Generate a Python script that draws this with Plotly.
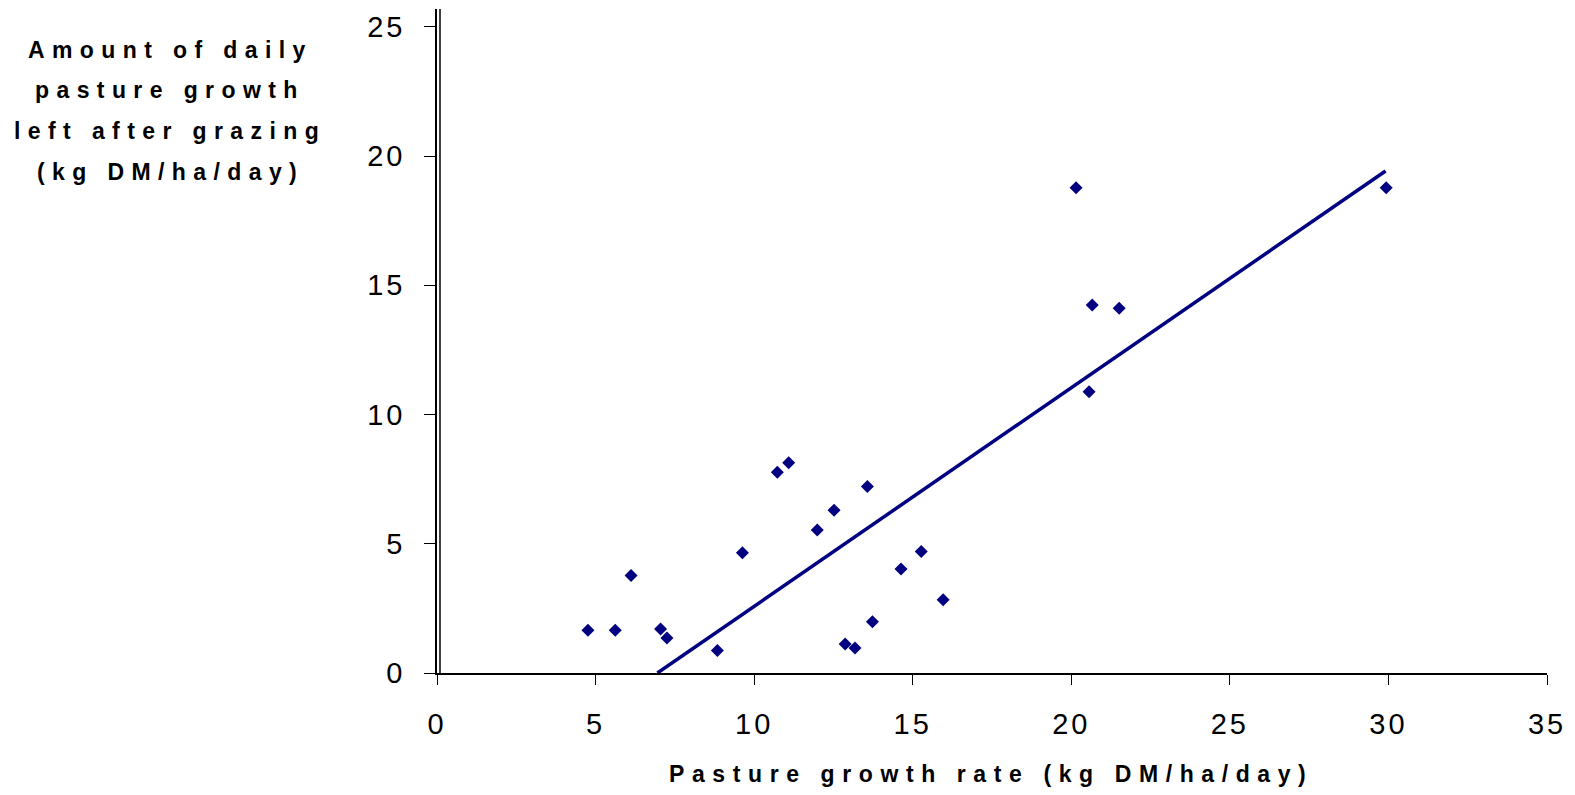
import plotly.graph_objects as go

# ---- data ----
growth_rate = [4.76, 5.62, 6.12, 7.05, 7.25, 8.84, 9.63, 10.73, 11.09, 11.99,
               12.52, 13.57, 12.87, 13.18, 13.73, 14.63, 15.27, 15.96,
               20.15, 20.66, 21.51, 20.56, 29.93]
left_after = [1.65, 1.65, 3.77, 1.70, 1.35, 0.87, 4.65, 7.77, 8.13, 5.53,
              6.30, 7.22, 1.12, 0.97, 1.98, 4.02, 4.70, 2.83,
              18.77, 14.24, 14.11, 10.88, 18.77]
trend_x = [6.95, 29.91]
trend_y = [0.0, 19.42]
x_ticks = [0, 5, 10, 15, 20, 25, 30, 35]
y_ticks = [0, 5, 10, 15, 20, 25]
x_title = "Pasture growth rate (kg DM/ha/day)"
y_title_lines = ["Amount of daily", "pasture growth", "left after grazing", "(kg DM/ha/day)"]

NAVY = "#000080"
FONT = "Liberation Sans, Arial, sans-serif"
W, H = 1575, 795
ML, MR, MT, MB = 437, 23, 9, 122


def spaced(t, px):
    return f'<span style="letter-spacing:{px}px">{t}</span>'


fig = go.Figure()
fig.add_trace(go.Scatter(x=trend_x, y=trend_y, mode="lines",
                         line=dict(color=NAVY, width=3.5), hoverinfo="skip",
                         showlegend=False))
fig.add_trace(go.Scatter(x=growth_rate, y=left_after, mode="markers",
                         marker=dict(symbol="diamond", size=10, color=NAVY),
                         showlegend=False))

fig.update_layout(
    width=W, height=H, autosize=False,
    margin=dict(l=ML, r=MR, t=MT, b=MB),
    paper_bgcolor="white", plot_bgcolor="white",
    font=dict(family=FONT, color="black"),
    xaxis=dict(range=[0, 35], tickvals=x_ticks,
               ticktext=[spaced(str(v), 3) for v in x_ticks],
               showgrid=False, zeroline=False, showline=True,
               linecolor="black", linewidth=1.5, ticks="outside",
               ticklen=10, tickcolor="black", tickwidth=1,
               tickfont=dict(size=29, family=FONT), ticklabelstandoff=14),
    yaxis=dict(range=[0, 25.69], tickvals=y_ticks,
               ticktext=[spaced(str(v), 3) for v in y_ticks],
               showgrid=False, zeroline=False, showline=True,
               linecolor="black", linewidth=1.5, ticks="outside",
               ticklen=11, tickcolor="black", tickwidth=1,
               tickfont=dict(size=29, family=FONT), ticklabelstandoff=13),
)

# second line of the double y-axis rule
fig.add_shape(type="line", xref="x", yref="paper", xsizemode="pixel",
              xanchor=0, x0=3, x1=3, y0=0, y1=1,
              line=dict(color="black", width=1.5))

pw = W - ML - MR
ph = H - MT - MB

# x-axis title
fig.add_annotation(text=spaced(f"<b>{x_title}</b>", 7.6), xref="paper", yref="paper",
                   x=(993 - ML) / pw, y=-(774 - (H - MB)) / ph,
                   showarrow=False, xanchor="center", yanchor="middle",
                   font=dict(size=23, family=FONT, color="black"))

# y-axis title (horizontal, four lines)
line_y = [50, 90.5, 131, 171.5]
for txt, py in zip(y_title_lines, line_y):
    fig.add_annotation(text=spaced(f"<b>{txt}</b>", 7.4), xref="paper", yref="paper",
                       x=(169 - ML) / pw, y=1 - (py - MT) / ph,
                       showarrow=False, xanchor="center", yanchor="middle",
                       font=dict(size=23, family=FONT, color="black"))

fig.write_html("out.html",
               config={"responsive": False, "displayModeBar": False},
               post_script="document.body.style.margin='0px';")
